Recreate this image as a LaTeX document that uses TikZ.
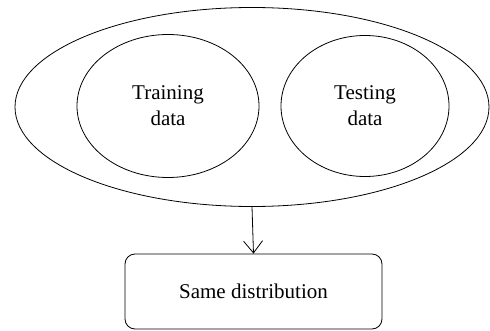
\documentclass[tikz,border=0pt]{standalone}
\usepackage{fontspec}
\setmainfont{Liberation Serif}
\usetikzlibrary{arrows.meta,shapes.geometric}
\begin{document}
\begin{tikzpicture}[x=1pt,y=1pt,
  every node/.style={font=\fontsize{21}{26}\selectfont, line width=0.8pt},
  oval/.style={ellipse, draw, inner sep=0pt, align=center},
  box/.style={draw, rounded corners=10pt, inner sep=0pt},
  conn/.style={line width=0.8pt, -{Straight Barb[length=12pt,width=19pt]}}]
\useasboundingbox (0,0) rectangle (490,330);
\node[oval, minimum width=474pt, minimum height=199pt] (all) at (252,223) {};
\node[oval, minimum width=182pt, minimum height=143pt] (train) at (168,224) {Training\\data};
\node[oval, minimum width=168pt, minimum height=141pt] (test) at (365,224) {Testing\\data};
\node[box, minimum width=257pt, minimum height=75pt] (same) at (253.5,38.5) {Same distribution};
\draw[conn] (all.south) -- (same.north);
\end{tikzpicture}
\end{document}
